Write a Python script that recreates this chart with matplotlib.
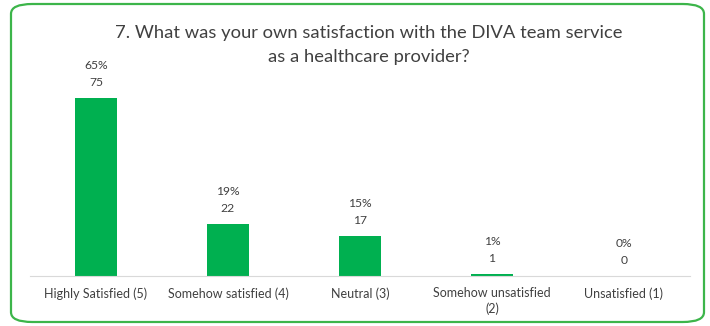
import matplotlib.pyplot as plt
from matplotlib.patches import FancyBboxPatch

# data
categories = ["Highly Satisfied (5)", "Somehow satisfied (4)", "Neutral (3)",
              "Somehow unsatisfied\n(2)", "Unsatisfied (1)"]
counts = [75, 22, 17, 1, 0]
percents = ["65%", "19%", "15%", "1%", "0%"]

plt.rcParams['font.family'] = ['Lato', 'DejaVu Sans']

W, H = 710, 326
fig = plt.figure(figsize=(W / 100, H / 100), dpi=100)

# rounded green frame
frame = FancyBboxPatch((11 / W, 4 / H), 693 / W, 318 / H,
                       boxstyle="round,pad=0,rounding_size=0.03",
                       transform=fig.transFigure, facecolor='none',
                       edgecolor='#3cb54a', linewidth=1.6, zorder=0)
fig.patches.append(frame)

ax = fig.add_axes([30 / W, (H - 276) / H, 660 / W, 206 / H])
ax.set_facecolor('none')
bars = ax.bar(range(len(counts)), counts, width=0.32, color='#00b050', zorder=2)
ax.set_xlim(-0.5, 4.5)
ax.set_ylim(0, 206 / 2.373)

for i, (c, p) in enumerate(zip(counts, percents)):
    ax.annotate(f"{p}\n{c}", (i, c), xytext=(0, 7), textcoords='offset points',
                ha='center', va='bottom', fontsize=8.7, color='#404040',
                linespacing=1.7)

ax.set_xticks(range(len(categories)))
ax.set_xticklabels(categories, fontsize=9, color='#404040', linespacing=1.3)
ax.tick_params(axis='x', length=0, pad=8)
ax.set_yticks([])
for s in ['top', 'right', 'left']:
    ax.spines[s].set_visible(False)
ax.spines['bottom'].set_color('#d9d9d9')

fig.text(369 / W, 1 - 45 / H,
         "7. What was your own satisfaction with the DIVA team service\nas a healthcare provider?",
         ha='center', va='center', fontsize=13.2, color='#404040', linespacing=1.6)

fig.savefig('out.png', dpi=100)
